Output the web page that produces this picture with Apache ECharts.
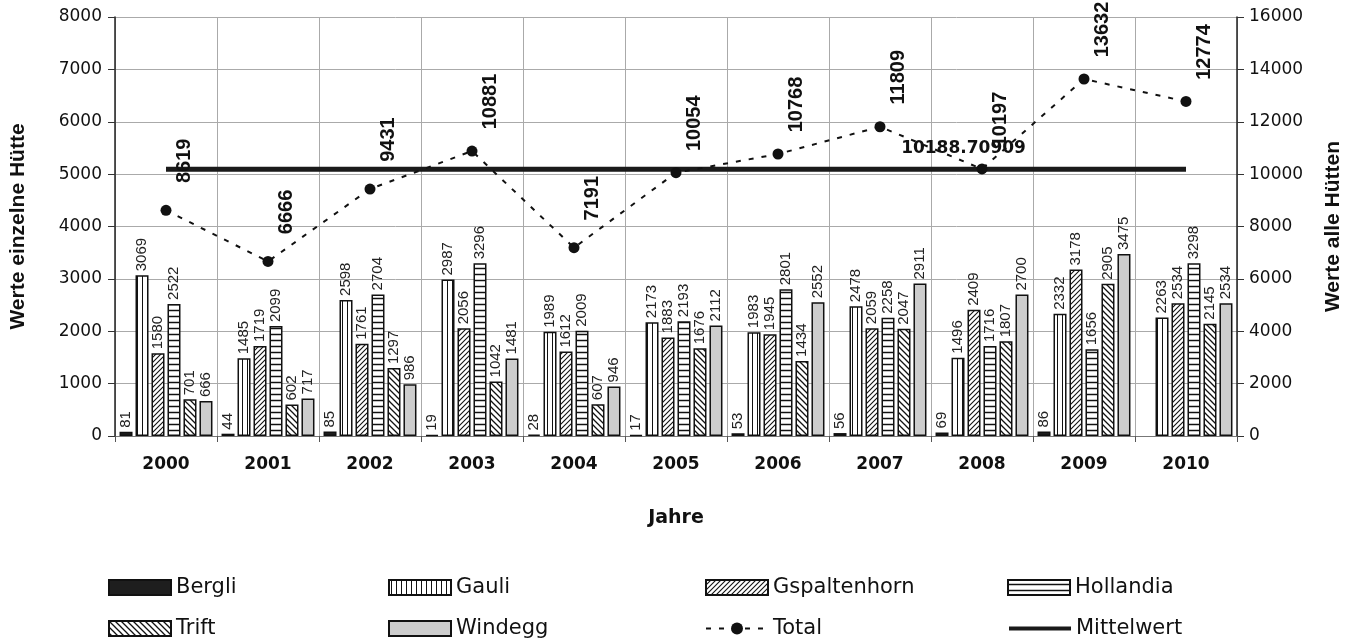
<!DOCTYPE html>
<html><head><meta charset="utf-8">
<script src="https://cdn.jsdelivr.net/npm/echarts@6/dist/echarts.min.js"></script>
<style>html,body{margin:0;padding:0;background:#fff}#c{width:1352px;height:643px}</style>
</head><body><div id="c"></div>
<script>
const years = ['2000','2001','2002','2003','2004','2005','2006','2007','2008','2009','2010'];
const bergli = [81,44,85,19,28,17,53,56,69,86,null];
const gauli = [3069,1485,2598,2987,1989,2173,1983,2478,1496,2332,2263];
const gspaltenhorn = [1580,1719,1761,2056,1612,1883,1945,2059,2409,3178,2534];
const hollandia = [2522,2099,2704,3296,2009,2193,2801,2258,1716,1656,3298];
const trift = [701,602,1297,1042,607,1676,1434,2047,1807,2905,2145];
const windegg = [666,717,986,1481,946,2112,2552,2911,2700,3475,2534];
const total = [8619,6666,9431,10881,7191,10054,10768,11809,10197,13632,12774];
const mittelwert = [10188.70909,10188.70909,10188.70909,10188.70909,10188.70909,10188.70909,10188.70909,10188.70909,10188.70909,10188.70909,10188.70909];
const leftTicks = {min:0,max:8000,interval:1000};
const rightTicks = {min:0,max:16000,interval:2000};

function pat(w,h,draw){
  const c=document.createElement('canvas');c.width=w;c.height=h;
  const g=c.getContext('2d');g.fillStyle='#fff';g.fillRect(0,0,w,h);
  g.strokeStyle='#111';draw(g,w,h);return {image:c,repeat:'repeat'};
}
const pGauli = pat(5,5,(g)=>{g.lineWidth=1;g.beginPath();g.moveTo(2.5,0);g.lineTo(2.5,5);g.stroke();});
const pHoll = pat(6,6,(g)=>{g.lineWidth=1.5;g.beginPath();g.moveTo(0,4.5);g.lineTo(6,4.5);g.stroke();});
const pGsp = pat(5,5,(g)=>{g.lineWidth=1.1;g.beginPath();g.moveTo(0,5);g.lineTo(5,0);g.moveTo(-1,1);g.lineTo(1,-1);g.moveTo(4,6);g.lineTo(6,4);g.stroke();});
const pTrift = pat(6,6,(g)=>{g.lineWidth=1.3;g.beginPath();g.moveTo(0,0);g.lineTo(6,6);g.moveTo(-1,5);g.lineTo(1,7);g.moveTo(5,-1);g.lineTo(7,1);g.stroke();});

const FONT_H = 'DejaVu Sans';
const FONT_R = 'Liberation Sans';
const barLabel = {show:true,position:'top',rotate:90,align:'left',verticalAlign:'middle',distance:4,
  fontFamily:FONT_R,fontSize:15,color:'#222'};
function barSeries(name,data,fill){
  return {name,type:'bar',data,barWidth:13,barGap:'23%',
    itemStyle:{color:fill,borderColor:'#111',borderWidth:1.5},label:barLabel};
}
const names=['Bergli','Gauli','Gspaltenhorn','Hollandia','Trift','Windegg','Total','Mittelwert'];
const legX=[103,383,700,1002];
const legends = names.map((n,i)=>{
  const l={data:[n],left:legX[i%4],top:i<4?572:613,itemWidth:62,itemHeight:15,
    itemGap:0,selectedMode:false,textStyle:{fontFamily:FONT_H,fontSize:21,color:'#111'}};
  if(i<6) l.icon='rect';
  if(n==='Mittelwert') l.lineStyle={width:4};
  if(n==='Total') l.lineStyle={width:2};
  return l;
});

const chart = echarts.init(document.getElementById('c'));
chart.setOption({
  animation:false,
  backgroundColor:'#fff',
  grid:{left:113,right:114,top:17,bottom:207},
  legend:legends,
  xAxis:{type:'category',data:years,boundaryGap:true,
    axisLine:{lineStyle:{color:'#777',width:1}},
    axisTick:{show:true,length:6,lineStyle:{color:'#555'}},
    axisLabel:{fontFamily:FONT_H,fontWeight:'bold',fontSize:17,color:'#111',margin:20},
    splitLine:{show:true,lineStyle:{color:'#aaa',width:1}},
    name:'Jahre',nameLocation:'middle',nameGap:73,
    nameTextStyle:{fontFamily:FONT_H,fontWeight:'bold',fontSize:19,color:'#111'}},
  yAxis:[
    {type:'value',min:leftTicks.min,max:leftTicks.max,interval:leftTicks.interval,
      axisLine:{show:true,lineStyle:{color:'#222',width:1.5}},
      axisTick:{show:true,length:7,lineStyle:{color:'#333'}},
      axisLabel:{fontFamily:FONT_H,fontSize:17,color:'#111',margin:13,formatter:(v)=>String(v)},
      splitLine:{show:true,lineStyle:{color:'#aaa',width:1}},
      name:'Werte einzelne Hütte',nameLocation:'middle',nameRotate:90,nameGap:86,
      nameTextStyle:{fontFamily:FONT_R,fontWeight:'bold',fontSize:21,color:'#111'}},
    {type:'value',min:rightTicks.min,max:rightTicks.max,interval:rightTicks.interval,position:'right',
      axisLine:{show:true,lineStyle:{color:'#222',width:1.5}},
      axisTick:{show:true,length:7,lineStyle:{color:'#333'}},
      axisLabel:{fontFamily:FONT_H,fontSize:17,color:'#111',margin:12,formatter:(v)=>String(v)},
      splitLine:{show:false},
      name:'Werte alle Hütten',nameLocation:'middle',nameRotate:90,nameGap:86,
      nameTextStyle:{fontFamily:FONT_R,fontWeight:'bold',fontSize:21,color:'#111'}}
  ],
  series:[
    barSeries('Bergli',bergli,'#1e1e1e'),
    barSeries('Gauli',gauli,pGauli),
    barSeries('Gspaltenhorn',gspaltenhorn,pGsp),
    barSeries('Hollandia',hollandia,pHoll),
    barSeries('Trift',trift,pTrift),
    barSeries('Windegg',windegg,'#cdcdcd'),
    {name:'Total',type:'line',yAxisIndex:1,data:total,symbol:'circle',symbolSize:11,z:5,
      itemStyle:{color:'#111'},lineStyle:{type:[5,8],width:2,color:'#111'},
      label:{show:true,position:[24,-44],rotate:90,align:'center',verticalAlign:'middle',
        fontFamily:FONT_R,fontWeight:'bold',fontSize:20,color:'#111'}},
    {name:'Mittelwert',type:'line',yAxisIndex:1,symbol:'circle',symbolSize:1,z:4,
      itemStyle:{color:'rgba(0,0,0,0)'},lineStyle:{width:5,color:'#1a1a1a'},
      data:mittelwert.map((v,i)=>i===8?{value:v,label:{show:true}}:v),
      label:{show:false,position:[-18,-20],align:'center',verticalAlign:'middle',formatter:'{c}',
        fontFamily:FONT_H,fontWeight:'bold',fontSize:17,color:'#111'}}
  ]
});
</script></body></html>
